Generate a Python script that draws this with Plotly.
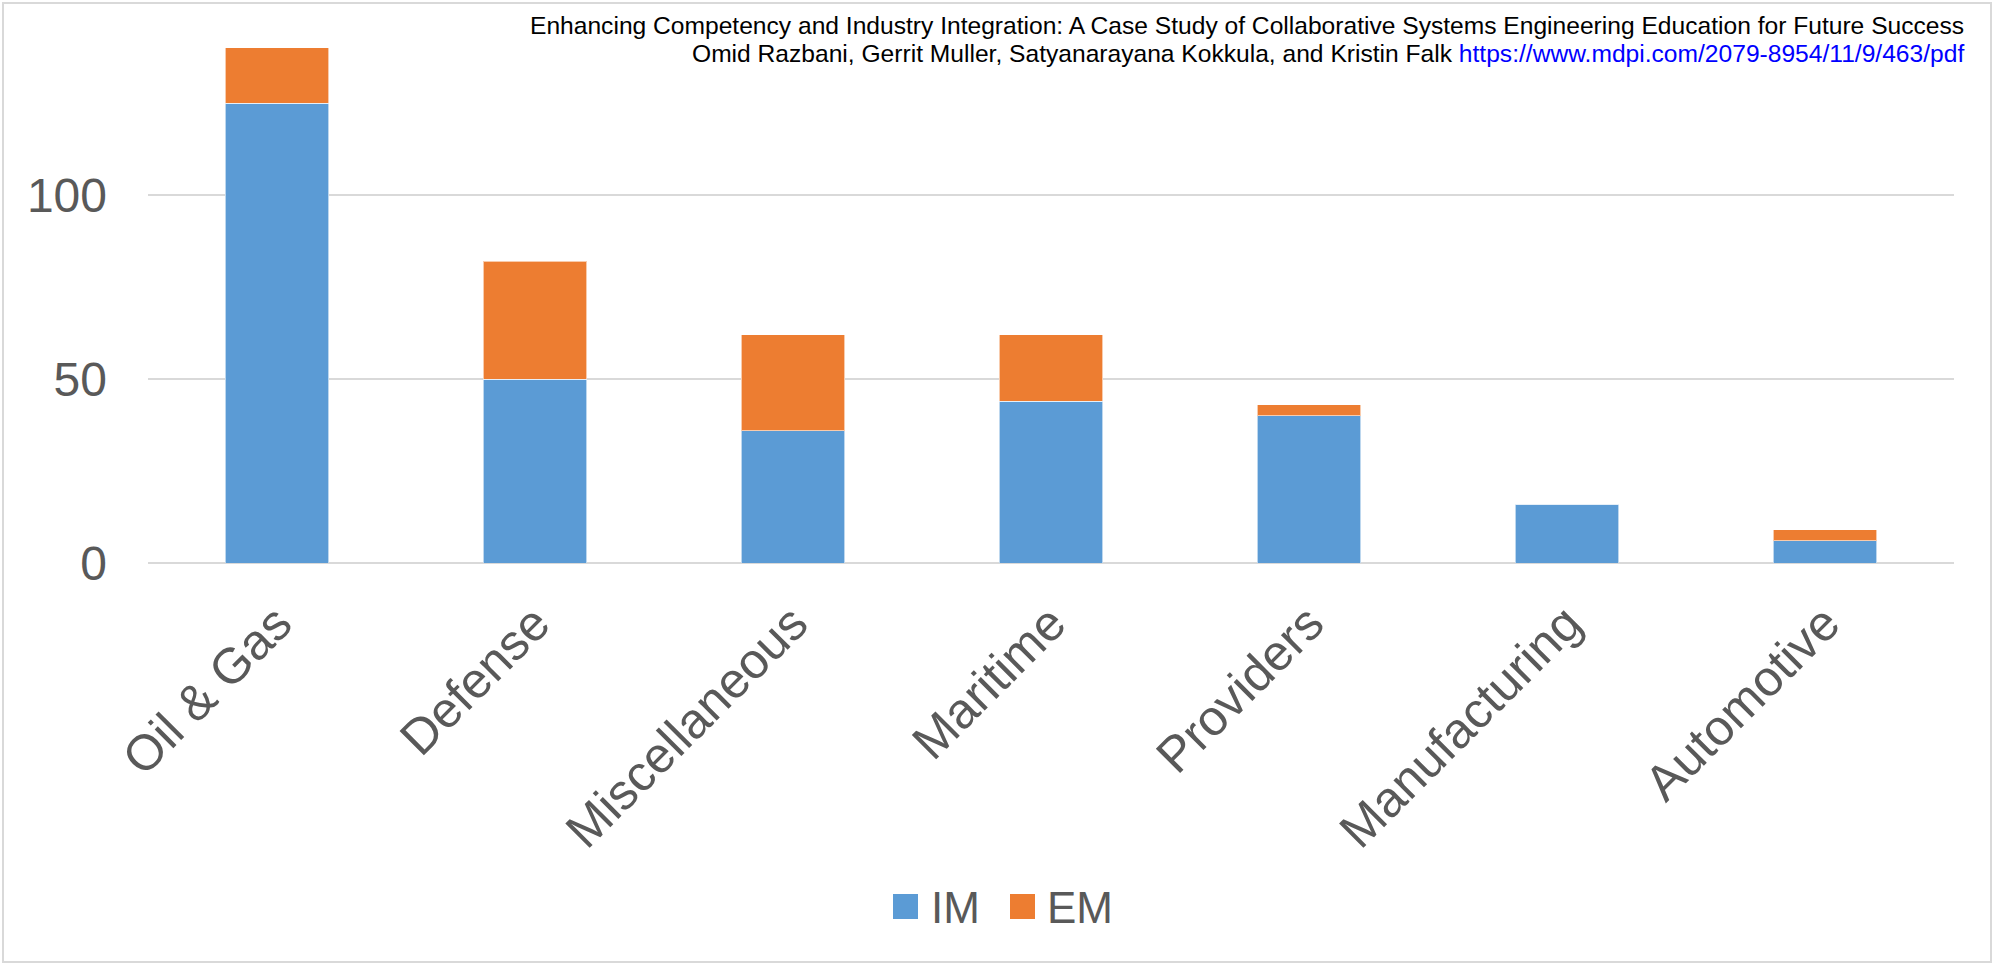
import plotly.graph_objects as go

categories = ["Oil & Gas", "Defense", "Miscellaneous", "Maritime", "Providers", "Manufacturing", "Automotive"]
im_values = [125, 50, 36, 44, 40, 16, 6]
em_values = [15, 32, 26, 18, 3, 0, 3]
series_names = ["IM", "EM"]
series_colors = ["#5B9BD5", "#ED7D31"]
y_ticks = [0, 50, 100]

title_line1 = "Enhancing Competency and Industry Integration: A Case Study of Collaborative Systems Engineering Education for Future Success"
title_line2 = "Omid Razbani, Gerrit Muller, Satyanarayana Kokkula, and Kristin Falk "
title_link = "https://www.mdpi.com/2079-8954/11/9/463/pdf"

W, H = 1993, 965
L, R, T, B = 148, 39, 11, 402
PW, PH = W - L - R, H - T - B


def px_x(x):
    return (x - L) / PW


def px_y(y):
    return (H - B - y) / PH


FONT = "Liberation Sans, Arial, sans-serif"
GREY = "#595959"

fig = go.Figure()
for name, vals, col in zip(series_names, [im_values, em_values], series_colors):
    fig.add_trace(go.Bar(
        x=categories, y=vals, name=name,
        marker=dict(color=col, line=dict(color="rgba(255,255,255,0.6)", width=1)),
        showlegend=False,
    ))

fig.update_layout(
    width=W, height=H,
    barmode="stack", bargap=0.6,
    margin=dict(l=L, r=R, t=T, b=B, autoexpand=False),
    paper_bgcolor="white", plot_bgcolor="white",
    font=dict(family=FONT, color=GREY, size=44),
)
fig.update_xaxes(
    type="category", range=[-0.5, len(categories) - 0.5],
    tickangle=-45, tickfont=dict(size=50, color=GREY),
    showgrid=False, showline=False, zeroline=False, ticks="",
    ticklabelstandoff=20,
)
fig.update_yaxes(
    range=[0, 150], tickvals=y_ticks, ticktext=[str(v) for v in y_ticks],
    tickfont=dict(size=48, color=GREY),
    showgrid=True, gridcolor="#D9D9D9", gridwidth=2,
    zeroline=True, zerolinecolor="#D9D9D9", zerolinewidth=2,
    showline=False, ticks="", ticklabelstandoff=40,
)

# title / citation text (two right-aligned lines)
fig.add_annotation(
    xref="paper", yref="paper", x=px_x(1966), y=px_y(25),
    xanchor="right", yanchor="middle", showarrow=False,
    font=dict(family=FONT, size=24.6, color="black"),
    text=title_line1,
)
fig.add_annotation(
    xref="paper", yref="paper", x=px_x(1966), y=px_y(53),
    xanchor="right", yanchor="middle", showarrow=False,
    font=dict(family=FONT, size=24.6, color="black"),
    text=title_line2 + "<span style='color:#0000FF'>" + title_link + "</span>",
)

# custom legend (large square swatches as in the reference)
legend_items = [(893, 932), (1010, 1048)]
for (sx, tx), name, col in zip(legend_items, series_names, series_colors):
    fig.add_shape(type="rect", xref="paper", yref="paper",
                  x0=px_x(sx), x1=px_x(sx + 25), y0=px_y(919), y1=px_y(894),
                  fillcolor=col, line=dict(width=0))
    fig.add_annotation(xref="paper", yref="paper", x=px_x(tx - 3), y=px_y(907),
                       xanchor="left", yanchor="middle", showarrow=False,
                       text=name, font=dict(family=FONT, size=44, color=GREY))

# chart border
fig.add_shape(type="rect", xref="paper", yref="paper",
              x0=px_x(3), x1=px_x(1991), y0=px_y(962), y1=px_y(3),
              line=dict(color="#D9D9D9", width=2), fillcolor="rgba(0,0,0,0)")

fig.write_html("out.html")
